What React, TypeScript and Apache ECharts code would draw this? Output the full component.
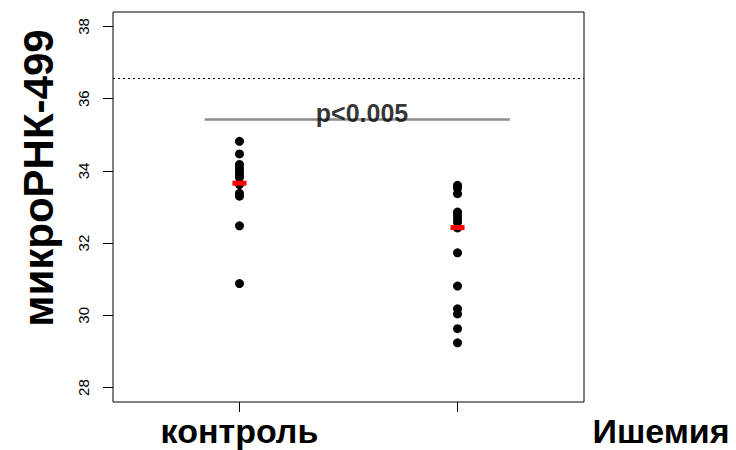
import React, { useEffect, useRef } from "react";
import * as echarts from "echarts";

const groups = ["контроль", "Ишемия"];
const groupX = [1, 2];
const controlValues = [34.82, 34.47, 34.18, 34.08, 33.98, 33.9, 33.82, 33.62, 33.38, 33.3, 32.48, 30.88];
const ischemiaValues = [33.6, 33.52, 33.37, 32.86, 32.78, 32.68, 32.58, 32.42, 31.73, 30.81, 30.18, 30.04, 29.63, 29.24];
const medians = [33.66, 32.43];
const yTicks = [28, 30, 32, 34, 36, 38];
const xTicks = [1, 2];
const thresholdValue = 36.57;
const sigLine = [0.84, 2.24];
const sigLevel = 35.42;
const sigText = "p<0.005";
const sigTextX = 1.562;
const yTitle = "микроРНК-499";

const FONT = "'Liberation Sans', Arial, Helvetica, sans-serif";

export default function App() {
  const ref = useRef<HTMLDivElement>(null);
  useEffect(() => {
    if (!ref.current) return;
    const chart = echarts.init(ref.current, null, { renderer: "svg" });
    const option: any = {
      animation: false,
      backgroundColor: "#ffffff",
      grid: {
        left: 113,
        right: 152,
        top: 12,
        bottom: 48,
        show: true,
        borderColor: "#000",
        borderWidth: 1,
        backgroundColor: "transparent",
      },
      xAxis: {
        type: "value",
        min: 0.42,
        max: 2.58,
        splitLine: { show: false },
        axisLine: { show: false },
        axisTick: { show: true, customValues: xTicks, length: 10, lineStyle: { color: "#000", width: 1 } },
        axisLabel: {
          show: true,
          customValues: [groupX[0]],
          formatter: (v: number) => (v === groupX[0] ? groups[0] : ""),
          fontFamily: FONT,
          fontWeight: "bold",
          fontSize: 34,
          color: "#000",
          margin: 12,
        },
      },
      yAxis: {
        type: "value",
        min: 27.6,
        max: 38.4,
        splitLine: { show: false },
        axisLine: { show: false },
        axisTick: { show: true, customValues: yTicks, length: 10, lineStyle: { color: "#000", width: 1 } },
        axisLabel: {
          show: true,
          customValues: yTicks,
          rotate: 90,
          fontFamily: FONT,
          fontSize: 15,
          color: "#000",
          margin: 22,
        },
      },
      series: [
        {
          type: "line",
          data: [
            [sigLine[0], sigLevel],
            [sigLine[1], sigLevel],
          ],
          symbol: "none",
          lineStyle: { color: "#8c8c8c", width: 2.5 },
          markLine: {
            silent: true,
            symbol: "none",
            label: { show: false },
            lineStyle: { color: "#000", type: [2, 3], width: 1 },
            data: [{ yAxis: thresholdValue }],
          },
          z: 1,
        },
        {
          type: "scatter",
          data: [[sigTextX, sigLevel]],
          symbolSize: 0,
          label: {
            show: true,
            position: "inside",
            offset: [0, -7],
            formatter: sigText,
            fontFamily: FONT,
            fontWeight: "bold",
            fontSize: 25,
            color: "#000",
          },
          z: 3,
        },
        {
          type: "scatter",
          data: controlValues.map((v) => [groupX[0], v]),
          symbol: "circle",
          symbolSize: 9,
          itemStyle: { color: "#000", opacity: 1 },
          z: 4,
        },
        {
          type: "scatter",
          data: ischemiaValues.map((v) => [groupX[1], v]),
          symbol: "circle",
          symbolSize: 9,
          itemStyle: { color: "#000", opacity: 1 },
          z: 4,
        },
        {
          type: "scatter",
          data: medians.map((v, i) => [groupX[i], v]),
          symbol: "rect",
          symbolSize: [14, 5],
          itemStyle: { color: "#ff0000", opacity: 1 },
          z: 5,
        },
      ],
      graphic: [
        {
          type: "text",
          x: 38,
          y: 178,
          rotation: Math.PI / 2,
          style: {
            text: yTitle,
            font: `bold 42px ${FONT}`,
            fill: "#000",
            align: "center",
            verticalAlign: "middle",
          },
        },
        {
          type: "text",
          x: 661,
          y: 431,
          style: {
            text: groups[1],
            font: `bold 34px ${FONT}`,
            fill: "#000",
            align: "center",
            verticalAlign: "middle",
          },
        },
      ],
    };
    chart.setOption(option);
    return () => chart.dispose();
  }, []);
  return (
    <div
      ref={ref}
      style={{ position: "fixed", left: 0, top: 0, width: 736, height: 450 }}
    />
  );
}
